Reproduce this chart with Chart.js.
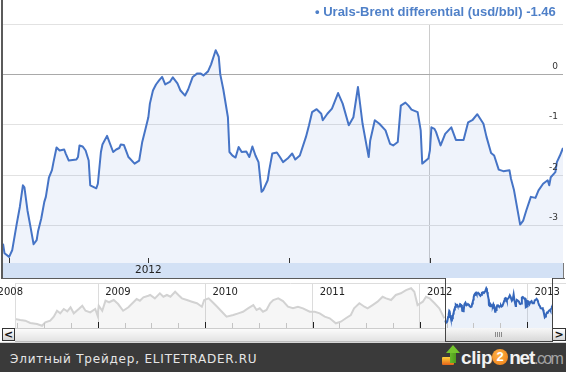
<!DOCTYPE html>
<html>
<head>
<meta charset="utf-8">
<script src="https://cdn.jsdelivr.net/npm/chart.js@4.4.1/dist/chart.umd.min.js"></script>
<style>
html,body{margin:0;padding:0;}
body{width:566px;height:372px;position:relative;overflow:hidden;background:#fff;font-family:"DejaVu Sans",sans-serif;}
.abs{position:absolute;}
canvas{display:block;}
#frameL{left:1px;top:0;width:2px;height:279px;background:#5b5b5b;}
#mainBox{left:3px;top:0;width:560px;height:278px;}
#bandR{left:563px;top:263px;width:1px;height:15px;background:#7a7a7a;}
#frameB1{left:1px;top:278px;width:444px;height:1px;background:#5b5b5b;}
#frameB2{left:552px;top:278px;width:13px;height:1px;background:#5b5b5b;}
#navBox{left:0;top:279px;width:566px;height:49px;}
#track{left:15px;top:328px;width:538px;height:14px;box-sizing:border-box;background:linear-gradient(#fbfbfb,#e3e3e3);border-top:1px solid #cdcdcd;border-bottom:1px solid #bdbdbd;}
.btn{top:328px;width:13px;height:13px;box-sizing:border-box;border:1px solid #333;background:linear-gradient(#ffffff,#d4d4d4);font:bold 11px/11px "DejaVu Sans",sans-serif;color:#111;text-align:center;}
#btnL{left:2px;}
#btnR{left:552px;width:14px;}
#thumb{left:445px;top:328px;width:108px;height:14px;box-sizing:border-box;background:linear-gradient(#f7f7f7,#d8d8d8);border:1px solid #444;border-top:none;}
#grip{position:absolute;left:49px;top:4px;width:7px;height:5px;background:repeating-linear-gradient(90deg,#8a8a8a 0 1px,transparent 1px 2px);}
#winL{left:445px;top:278px;width:1px;height:51px;background:#444;}
#winR{left:552px;top:278px;width:1px;height:51px;background:#444;}
#sep{left:0;top:342px;width:566px;height:1px;background:#d6d6d6;}
#footer{left:0;top:343px;width:566px;height:29px;background:#3a3a3a;}
#ftext{left:10px;top:9px;font:12px/14px "DejaVu Sans",sans-serif;letter-spacing:0.8px;color:#e6e6e6;white-space:nowrap;}
#tray{left:442px;top:14px;width:12px;height:8px;border-radius:1px;background:linear-gradient(#ffd23a,#e4621a);}
#ahead{left:446px;top:2px;width:0;height:0;border-left:7px solid transparent;border-right:7px solid transparent;border-bottom:8px solid #74c52e;}
#ashaft{left:450px;top:9px;width:6px;height:11px;background:linear-gradient(90deg,#66b82a,#4f9a1c);}
#logo{left:461px;top:0px;height:29px;font:bold 19px/29px "Liberation Sans",Arial,sans-serif;letter-spacing:-1.2px;white-space:nowrap;color:#f2f2f2;}
#logo .c{letter-spacing:-0.4px;}
#logo .two{display:inline-block;width:16px;height:16px;border-radius:50%;background:radial-gradient(circle at 40% 35%,#ffb347,#ee7a12);color:#fff;font:bold 13px/16px "Liberation Sans",Arial,sans-serif;text-align:center;vertical-align:middle;margin:0 1px 0 0;letter-spacing:0;position:relative;top:-2px;}
#logo .g{color:#a4a4a4;font-weight:normal;font-size:16px;letter-spacing:-1.6px;}
</style>
</head>
<body>
<div id="frameL" class="abs"></div>
<div id="mainBox" class="abs"><canvas id="main" width="560" height="278"></canvas></div>
<div id="bandR" class="abs"></div>
<div id="frameB1" class="abs"></div>
<div id="frameB2" class="abs"></div>
<div id="navBox" class="abs"><canvas id="nav" width="566" height="49"></canvas></div>
<div id="track" class="abs"></div>
<div id="btnL" class="abs btn">&lt;</div>
<div id="btnR" class="abs btn">&gt;</div>
<div id="thumb" class="abs"><div id="grip"></div></div>
<div id="winL" class="abs"></div>
<div id="winR" class="abs"></div>
<div id="sep" class="abs"></div>
<div id="footer" class="abs">
  <div id="ftext" class="abs">Элитный Трейдер, ELITETRADER.RU</div>
  <div id="tray" class="abs"></div>
  <div id="ashaft" class="abs"></div>
  <div id="ahead" class="abs"></div>
  <div id="logo" class="abs"><span class="c">clip</span><span class="two">2</span><span>net</span><span class="g">.com</span></div>
</div>
<script>
// ---- data ----
const seriesLabel = 'Urals-Brent differential (usd/bbl)';
const lastValueText = '-1.46';

const dates = ['2012-03-28','2012-03-29','2012-04-01','2012-04-03','2012-04-06','2012-04-08','2012-04-10','2012-04-11','2012-04-13','2012-04-15',
'2012-04-17','2012-04-19','2012-04-20','2012-04-22','2012-04-24','2012-04-25','2012-04-27','2012-04-29','2012-04-30','2012-05-02',
'2012-05-04','2012-05-07','2012-05-08','2012-05-10','2012-05-15','2012-05-16','2012-05-17','2012-05-19','2012-05-21','2012-05-23',
'2012-05-24','2012-05-28','2012-05-29','2012-05-31','2012-06-01','2012-06-04','2012-06-08','2012-06-10','2012-06-12','2012-06-13',
'2012-06-15','2012-06-18','2012-06-22','2012-06-25','2012-06-27','2012-06-29','2012-07-01','2012-07-02','2012-07-04','2012-07-06',
'2012-07-08','2012-07-10','2012-07-12','2012-07-15','2012-07-17','2012-07-20','2012-07-22','2012-07-25','2012-07-27','2012-07-30',
'2012-08-02','2012-08-04','2012-08-06','2012-08-09','2012-08-11','2012-08-14','2012-08-16','2012-08-17','2012-08-19','2012-08-22',
'2012-08-23','2012-08-25','2012-08-27','2012-08-29','2012-08-31','2012-09-03','2012-09-05','2012-09-07','2012-09-09','2012-09-11',
'2012-09-13','2012-09-14','2012-09-17','2012-09-18','2012-09-20','2012-09-23','2012-09-25','2012-09-27','2012-09-30','2012-10-03',
'2012-10-05','2012-10-08','2012-10-12','2012-10-14','2012-10-16','2012-10-19','2012-10-22','2012-10-23','2012-10-26','2012-10-29',
'2012-11-02','2012-11-05','2012-11-09','2012-11-12','2012-11-15','2012-11-18','2012-11-22','2012-11-23','2012-11-26','2012-11-29',
'2012-12-03','2012-12-06','2012-12-08','2012-12-11','2012-12-13','2012-12-16','2012-12-18','2012-12-20','2012-12-24','2012-12-26',
'2012-12-27','2012-12-31','2013-01-01','2013-01-02','2013-01-04','2013-01-05','2013-01-08','2013-01-11','2013-01-15','2013-01-18',
'2013-01-23','2013-01-26','2013-01-29','2013-02-01','2013-02-05','2013-02-07','2013-02-10','2013-02-12','2013-02-15','2013-02-18',
'2013-02-22','2013-02-23','2013-02-25','2013-03-01','2013-03-03','2013-03-05','2013-03-08','2013-03-11','2013-03-13','2013-03-16',
'2013-03-19','2013-03-20','2013-03-21','2013-03-24','2013-03-25','2013-03-27','2013-03-29'];

const values = [-3.36,-3.55,-3.62,-3.49,-2.96,-2.63,-2.20,-2.24,-2.70,-3.03,
-3.37,-3.29,-3.10,-2.86,-2.53,-2.43,-2.05,-1.90,-1.74,-1.45,
-1.51,-1.49,-1.57,-1.71,-1.69,-1.64,-1.41,-1.43,-1.51,-1.71,
-2.20,-2.26,-2.17,-1.54,-1.39,-1.22,-1.54,-1.49,-1.46,-1.39,
-1.40,-1.64,-1.77,-1.71,-1.34,-1.10,-0.85,-0.58,-0.32,-0.20,
-0.12,-0.05,-0.20,-0.15,-0.06,-0.18,-0.32,-0.42,-0.30,-0.05,
0.02,0.02,-0.02,0.06,0.20,0.48,0.35,0.00,-0.30,-0.85,
-1.54,-1.61,-1.65,-1.44,-1.54,-1.53,-1.64,-1.43,-1.61,-1.74,
-2.33,-2.30,-2.10,-1.90,-1.57,-1.55,-1.64,-1.74,-1.67,-1.57,
-1.69,-1.61,-1.24,-1.01,-0.75,-0.69,-0.78,-0.91,-0.78,-0.68,
-0.37,-0.58,-1.01,-0.85,-0.25,-0.98,-1.64,-1.31,-0.91,-0.98,
-1.11,-1.38,-1.41,-1.34,-0.62,-0.56,-0.62,-0.70,-0.75,-1.11,
-1.77,-1.67,-1.51,-1.05,-1.08,-1.14,-1.41,-1.18,-1.05,-1.30,
-1.30,-0.95,-0.90,-0.79,-0.98,-1.24,-1.56,-1.61,-1.89,-1.92,
-1.90,-2.07,-2.30,-2.98,-2.90,-2.70,-2.43,-2.45,-2.30,-2.17,
-2.10,-2.20,-2.04,-1.94,-1.74,-1.61,-1.46];

const histDates = ['2008-03-24','2008-04-11','2008-04-28','2008-05-15','2008-06-07','2008-06-24','2008-07-05','2008-07-22','2008-08-03','2008-08-14',
'2008-08-25','2008-09-06','2008-09-18','2008-09-29','2008-10-10','2008-10-27','2008-11-08','2008-11-19','2008-12-05','2008-12-22',
'2008-12-30','2009-01-03','2009-01-15','2009-01-26','2009-02-07','2009-02-23','2009-03-10','2009-03-27','2009-04-14','2009-05-01',
'2009-05-12','2009-05-23','2009-06-04','2009-06-21','2009-06-27','2009-07-13','2009-07-30','2009-08-11','2009-08-23','2009-09-04',
'2009-09-20','2009-10-01','2009-10-13','2009-10-30','2009-11-16','2009-12-03','2009-12-20','2009-12-28','2010-01-12','2010-01-24',
'2010-02-10','2010-02-26','2010-03-14','2010-04-06','2010-04-23','2010-05-09','2010-05-26','2010-06-13','2010-06-24','2010-07-05',
'2010-07-16','2010-07-28','2010-08-09','2010-08-20','2010-09-06','2010-09-22','2010-10-09','2010-10-26','2010-11-12','2010-11-29',
'2010-12-22','2011-01-08','2011-01-25','2011-02-11','2011-02-28','2011-03-21','2011-04-07','2011-04-24','2011-05-11','2011-05-22',
'2011-06-09','2011-06-26','2011-07-07','2011-07-24','2011-08-10','2011-08-27','2011-09-08','2011-09-25','2011-10-11','2011-10-28',
'2011-11-15','2011-12-02','2011-12-13','2011-12-24','2012-01-11','2012-01-22','2012-02-03','2012-02-20','2012-03-07','2012-03-24'];

const histValues = [-3.19,-3.31,-3.39,-3.66,-3.78,-3.99,-3.58,-3.39,-2.91,-2.20,
-2.51,-1.99,-2.27,-1.79,-2.51,-1.99,-1.60,-2.20,-2.39,-1.99,
-2.79,-1.60,-2.20,-1.00,-1.19,-0.92,-1.40,-2.20,-1.79,-1.19,
-0.80,-1.00,-0.60,-0.41,-0.32,-0.72,-0.12,-0.53,-0.32,-0.53,
0.07,-0.32,-0.72,-0.92,-1.12,-1.31,-1.72,-0.92,-0.72,-1.12,
-1.72,-2.32,-2.91,-2.71,-2.51,-2.32,-1.91,-1.52,-2.11,-1.91,
-2.32,-2.11,-1.31,-0.92,-0.72,-1.04,-1.72,-1.91,-1.72,-1.91,
-2.32,-2.32,-2.51,-2.91,-3.10,-3.70,-3.51,-3.10,-2.71,-1.91,
-1.31,-1.72,-1.91,-1.52,-1.12,-0.53,-0.72,-0.92,-0.32,-0.12,
0.27,0.48,0.07,-1.52,-1.12,-0.53,-0.72,-1.31,-1.91,-3.10];

const yTicks = [-3,-2,-1,0,1];
const xTickDates = ['2012-04-01','2012-07-01','2012-10-01','2013-01-01'];
const xTickLabels = ['','2012','',''];
const yearLineDate = '2013-01-01';
const navYears = [2008,2009,2010,2011,2012,2013];

// ---- helpers ----
const day = s => Date.UTC(+s.slice(0,4), +s.slice(5,7)-1, +s.slice(8,10)) / 864e5;
const mainPts = dates.map((d,i) => ({x: day(d), y: values[i]}));
const histPts = histDates.map((d,i) => ({x: day(d), y: histValues[i]}));

const tickMarks = {
  id: 'tickMarks',
  afterDatasetsDraw(chart, args, opts) {
    const {ctx, chartArea: a} = chart;
    const sx = chart.scales.x;
    ctx.save();
    ctx.lineWidth = 1;
    sx.ticks.forEach(t => {
      const px = Math.round(sx.getPixelForValue(t.value)) + 0.5;
      if (px < a.left - 1 || px > a.right + 1) return;
      const major = t.major || !opts.minorColor;
      ctx.strokeStyle = major ? opts.color : opts.minorColor;
      const len = major ? opts.length : opts.minorLength;
      ctx.beginPath();
      ctx.moveTo(px, a.bottom - len);
      ctx.lineTo(px, a.bottom);
      ctx.stroke();
    });
    ctx.restore();
  }
};

const navDecor = {
  id: 'navDecor',
  afterDatasetsDraw(chart, args, opts) {
    const {ctx, chartArea: a} = chart;
    const sx = chart.scales.x;
    ctx.save();
    ctx.strokeStyle = opts.frameColor;
    ctx.lineWidth = 1;
    ctx.beginPath();
    ctx.moveTo(a.left, a.top + 0.5); ctx.lineTo(chart.width, a.top + 0.5);
    ctx.moveTo(a.left + 0.5, a.top); ctx.lineTo(a.left + 0.5, a.bottom);
    ctx.stroke();
    ctx.fillStyle = opts.labelColor;
    ctx.font = opts.font;
    ctx.textAlign = 'left';
    ctx.textBaseline = 'alphabetic';
    navYears.forEach(y => {
      const px = sx.getPixelForValue(day(y + '-01-01'));
      ctx.fillText(String(y), px + 7, a.top + 12);
    });
    ctx.restore();
  }
};

const FONT_LABEL = '"DejaVu Sans", Verdana, sans-serif';
const BLUE = '#4674c6';

// ---- main chart ----
new Chart(document.getElementById('main'), {
  type: 'line',
  data: {
    datasets: [{
      label: seriesLabel,
      data: mainPts,
      borderColor: BLUE,
      borderWidth: 2,
      backgroundColor: 'rgba(74,126,214,0.09)',
      fill: 'start',
      pointRadius: 0,
      tension: 0,
      borderJoinStyle: 'round'
    }]
  },
  options: {
    responsive: false,
    animation: false,
    events: [],
    layout: {padding: 0},
    plugins: {
      legend: {display: false},
      tooltip: {enabled: false},
      title: {
        display: true,
        position: 'top',
        align: 'end',
        text: '\u2022 ' + seriesLabel + ' ' + lastValueText + '  ',
        color: '#4f80c8',
        font: {family: '"Liberation Sans", Arial, sans-serif', size: 13, weight: 'bold', lineHeight: 1.2},
        padding: {top: 4.2, bottom: 4.2}
      },
      tickMarks: {color: '#333333', length: 5}
    },
    scales: {
      x: {
        type: 'linear',
        min: day(dates[0]),
        max: day(dates[dates.length - 1]),
        backgroundColor: '#d3e1f5',
        afterBuildTicks: s => { s.ticks = xTickDates.map(d => ({value: day(d)})); },
        afterFit: s => { s.height = 15; },
        ticks: {
          autoSkip: false, maxRotation: 0, minRotation: 0, padding: 1,
          color: '#222222',
          font: {family: FONT_LABEL, size: 10.5},
          callback: (v, i) => xTickLabels[i]
        },
        grid: {
          drawTicks: false,
          lineWidth: 1,
          color: c => (c.tick && c.tick.value === day(yearLineDate)) ? '#cccccc' : 'rgba(0,0,0,0)'
        },
        border: {display: false}
      },
      y: {
        position: 'right',
        min: 1 - 239 / 50.4,
        max: 1,
        afterBuildTicks: s => { s.ticks = yTicks.map(v => ({value: v})); },
        afterFit: s => { s.width = 0; },
        ticks: {
          mirror: true, padding: -5, labelOffset: -8, autoSkip: false, z: 1,
          color: '#333333',
          font: {family: FONT_LABEL, size: 9},
          callback: v => (v === 1 ? '' : String(v))
        },
        grid: {
          drawTicks: false,
          lineWidth: 1,
          color: c => (c.tick && c.tick.value === 0) ? '#a9a9a9' : '#e2e2e2'
        },
        border: {display: false}
      }
    }
  },
  plugins: [tickMarks]
});

// ---- navigator chart ----
new Chart(document.getElementById('nav'), {
  type: 'line',
  data: {
    datasets: [{
      label: 'history',
      data: histPts,
      borderColor: '#d2d2d2',
      borderWidth: 2,
      backgroundColor: 'rgba(0,0,0,0.035)',
      fill: 'start',
      pointRadius: 0,
      tension: 0
    }, {
      label: seriesLabel,
      data: mainPts,
      borderColor: '#3567bb',
      borderWidth: 2,
      backgroundColor: 'rgba(74,126,214,0.11)',
      fill: 'start',
      pointRadius: 0,
      tension: 0
    }]
  },
  options: {
    responsive: false,
    animation: false,
    events: [],
    layout: {padding: {left: 15, top: 4, right: 13, bottom: 0}},
    plugins: {
      legend: {display: false},
      tooltip: {enabled: false},
      tickMarks: {color: '#222222', length: 6, minorColor: '#c4c4c4', minorLength: 5},
      navDecor: {frameColor: '#dddddd', labelColor: '#222222', font: '10px ' + FONT_LABEL}
    },
    scales: {
      x: {
        type: 'linear',
        min: day(histDates[0]),
        max: day(dates[dates.length - 1]),
        afterBuildTicks: s => {
          const t = [];
          navYears.forEach(y => [0, 3, 6, 9].forEach(m => {
            const v = Date.UTC(y, m, 1) / 864e5;
            if (v >= s.min && v <= s.max) t.push({value: v, major: m === 0});
          }));
          s.ticks = t;
        },
        ticks: {display: false},
        grid: {
          drawTicks: false,
          color: c => (c.tick && c.tick.major) ? '#dcdcdc' : 'rgba(0,0,0,0)'
        },
        border: {display: false}
      },
      y: {display: false, min: -4.26, max: 1.11}
    }
  },
  plugins: [tickMarks, navDecor]
});
</script>
</body>
</html>
